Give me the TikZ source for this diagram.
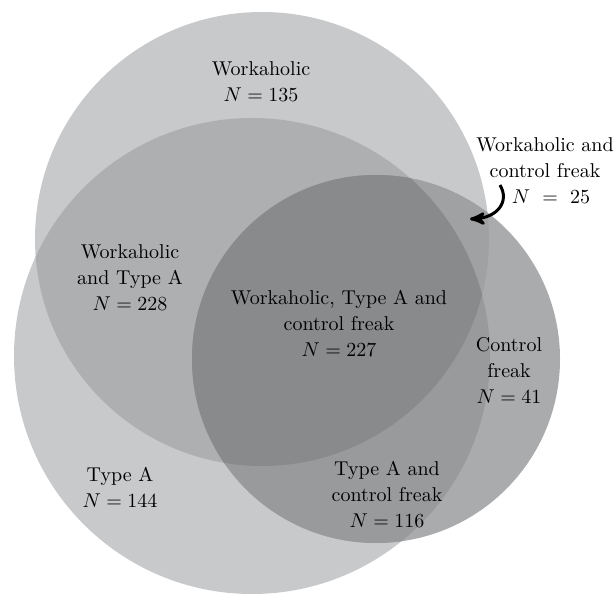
\documentclass[tikz,border=0pt]{standalone}
\usetikzlibrary{arrows}
\usetikzlibrary{backgrounds}

\definecolor{onegray}{RGB}{200,201,203}
\definecolor{wtgray}{RGB}{174,175,177}
\definecolor{cgray}{RGB}{170,171,173}
\definecolor{wcgray}{RGB}{160,161,163}
\definecolor{tcgray}{RGB}{153,154,156}
\definecolor{wtcgray}{RGB}{137,138,140}

\begin{document}
\begin{tikzpicture}[->,>=stealth',x=0.5pt, y=-0.5pt, background rectangle/.style={fill=white}, inner frame sep=0pt, show background rectangle]
\tikzset{lbl/.style={align=center,inner sep=0,font=\fontsize{10}{13}\selectfont}}
\useasboundingbox (0,0) rectangle (615,597);

% circle centres - workaholic, type A, control freak
\coordinate (w) at (262,239);
\coordinate (t) at (252,356);
\coordinate (c) at (376,359);

% ends of the little arrow
\coordinate (wcfrom) at (500,185);
\coordinate (wcto) at (470,219);

\fill[onegray] (w) circle (227);
\fill[onegray] (t) circle (238);

\begin{scope}[]
\clip (w) circle (227);
\fill[wtgray] (t) circle (238);
\end{scope}

\fill[cgray] (c) circle (184);

\begin{scope}[]
\clip (c) circle (184);
\fill[wcgray] (w) circle (227);
\fill[tcgray] (t) circle (238);
\clip (w) circle (227);
\fill[wtcgray] (t) circle (238);
\end{scope}

\node[lbl] (wonly) at (261,82) {Workaholic\\$N = 135$};
\node[lbl] (wc) at (545,171) {Workaholic and\\control freak\\\hspace*{6pt}$N\ =\ 25$};
\node[lbl] (wt) at (130,278) {Workaholic\\and Type A\\$N = 228$};
\node[lbl] (wtc) at (339,323) {Workaholic, Type A and\\control freak\\$N = 227$};
\node[lbl] (conly) at (509,370) {Control\\freak\\$N = 41$};
\node[lbl] (tonly) at (120,487) {Type A\\$N = 144$};
\node[lbl] (tc) at (387,494) {Type A and\\control freak\\$N = 116$};

\draw[line width=1.5pt] (wcfrom) .. controls (510,202) and (497,218) .. (wcto);

\end{tikzpicture}
\end{document}
